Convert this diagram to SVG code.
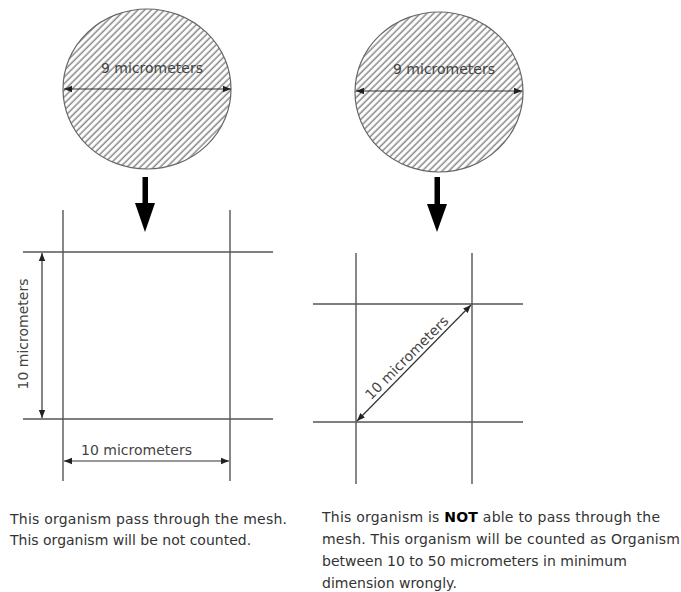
<svg xmlns="http://www.w3.org/2000/svg" width="681" height="592" viewBox="0 0 681 592">
<style>
.grid{stroke:#555;stroke-width:1.4;fill:none}
.dim{stroke:#333;stroke-width:1.2;fill:none;marker-start:url(#ah);marker-end:url(#ah)}
.lbl{font-family:"DejaVu Sans",sans-serif;font-size:14px;fill:#444}
.cap{font-family:"DejaVu Sans",sans-serif;font-size:14px;fill:#333}
.circ{fill:url(#hatch);stroke:#666;stroke-width:1.2}
.big{fill:#000}
</style>
<defs>
<pattern id="hatch" patternUnits="userSpaceOnUse" width="4.7" height="10" patternTransform="rotate(45)">
<rect width="4.7" height="10" fill="#fff"/>
<line x1="1.2" y1="0" x2="1.2" y2="10" stroke="#888" stroke-width="1.5"/>
</pattern>
<marker id="ah" viewBox="0 0 10 10" refX="10" refY="5" markerWidth="8" markerHeight="8" markerUnits="userSpaceOnUse" orient="auto-start-reverse">
<path d="M0,1 L10,5 L0,9 Z" fill="#222"/>
</marker>
</defs>

<g id="organism-left">
<ellipse class="circ" cx="147" cy="89" rx="84" ry="80"/>
<line class="dim" x1="64" y1="89" x2="231" y2="89"/>
<text class="lbl" x="152" y="73" text-anchor="middle">9 micrometers</text>
</g>

<g id="organism-right">
<ellipse class="circ" cx="439" cy="92" rx="84" ry="80"/>
<line class="dim" x1="356" y1="91" x2="522" y2="91"/>
<text class="lbl" x="444" y="74" text-anchor="middle">9 micrometers</text>
</g>

<g id="arrows">
<rect class="big" x="142.5" y="177" width="5.5" height="28"/>
<path class="big" d="M135,203 L155,203 L145,232 Z"/>
<rect class="big" x="434.5" y="177" width="5.5" height="28"/>
<path class="big" d="M427,204 L447,204 L437,232 Z"/>
</g>

<g id="mesh-left">
<line class="grid" x1="63" y1="210" x2="63" y2="481"/>
<line class="grid" x1="230" y1="210" x2="230" y2="481"/>
<line class="grid" x1="23" y1="252" x2="273" y2="252"/>
<line class="grid" x1="23" y1="419" x2="273" y2="419"/>
<line class="dim" x1="42" y1="253" x2="42" y2="418"/>
<text class="lbl" x="28" y="334" text-anchor="middle" transform="rotate(-90 28 334)">10 micrometers</text>
<line class="dim" x1="64" y1="461" x2="229" y2="461"/>
<text class="lbl" x="136.5" y="455" text-anchor="middle">10 micrometers</text>
</g>

<g id="mesh-right">
<line class="grid" x1="356" y1="253" x2="356" y2="484"/>
<line class="grid" x1="472" y1="253" x2="472" y2="484"/>
<line class="grid" x1="313" y1="304" x2="523" y2="304"/>
<line class="grid" x1="313" y1="422" x2="523" y2="422"/>
<line class="dim" x1="357" y1="421" x2="471" y2="305"/>
<text class="lbl" x="0" y="-4" text-anchor="middle" transform="translate(413,364) rotate(-45)">10 micrometers</text>
</g>

<g id="caption-left">
<text class="cap" x="10" y="524" textLength="277" lengthAdjust="spacing">This organism pass through the mesh.</text>
<text class="cap" x="10" y="545">This organism will be not counted.</text>
</g>

<g id="caption-right">
<text class="cap" x="322" y="522" textLength="338" lengthAdjust="spacing">This organism is <tspan font-weight="bold" fill="#000">NOT</tspan> able to pass through the</text>
<text class="cap" x="322" y="544" textLength="358" lengthAdjust="spacing">mesh. This organism will be counted as Organism</text>
<text class="cap" x="322" y="566">between 10 to 50 micrometers in minimum</text>
<text class="cap" x="322" y="588">dimension wrongly.</text>
</g>
</svg>
